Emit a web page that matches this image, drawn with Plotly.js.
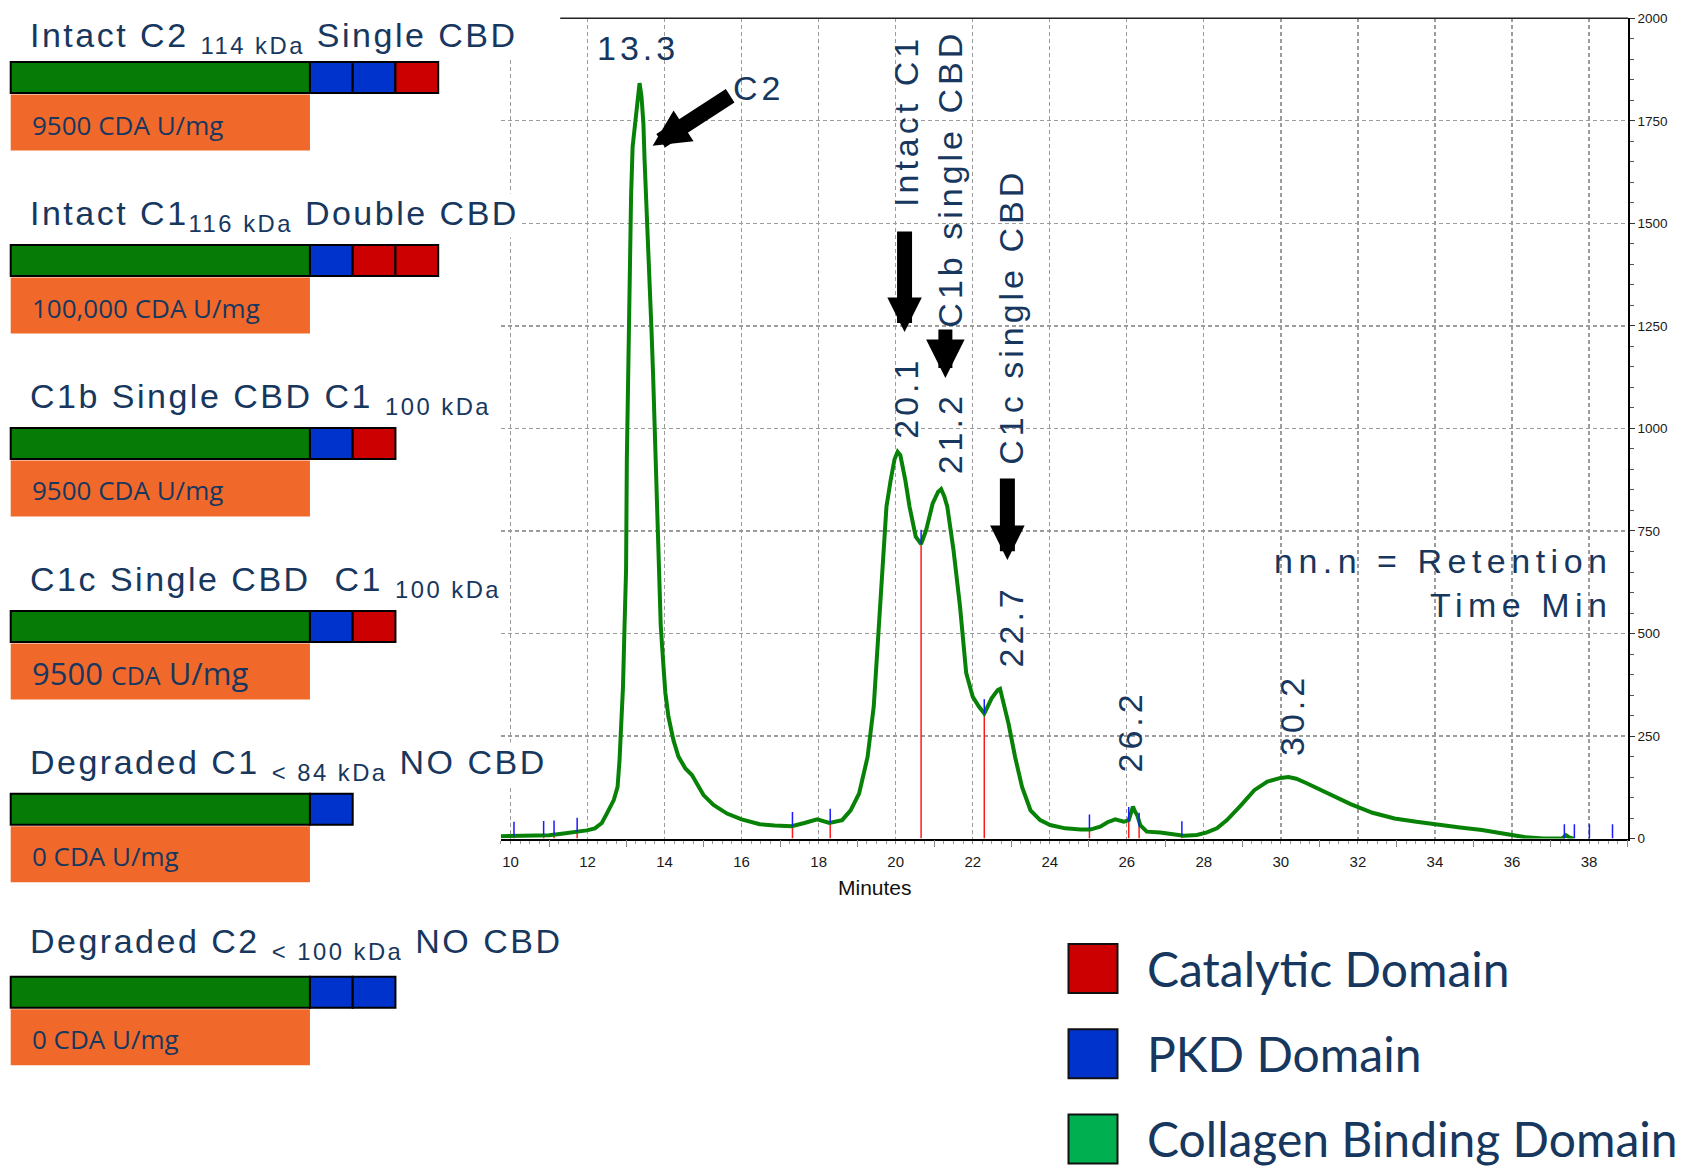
<!DOCTYPE html>
<html>
<head>
<meta charset="utf-8">
<script src="https://cdn.plot.ly/plotly-3.0.1.min.js"></script>
<style>
  html, body { margin:0; padding:0; background:#ffffff; }
  #chart { width:1688px; height:1168px; }
  text.annotation-text[style*="Arial"] { letter-spacing: 4px; }
  text.annotation-text[style*="Verdana"] { letter-spacing: 5.5px; }
  text.annotation-text[style*="Helvetica"] { letter-spacing: 2.5px; }
</style>
</head>
<body>
<div id="chart"></div>
<script>
// ================= DATA =================
// Chromatogram (minutes, detector signal)
const retentionTime = [
  9.75, 10.0, 10.5, 11.0, 11.33, 11.68, 11.98, 12.19, 12.37, 12.5,
  12.63, 12.68, 12.73, 12.78, 12.83, 12.88, 12.92, 12.96, 13.0, 13.02,
  13.05, 13.09, 13.13, 13.17, 13.25, 13.3, 13.35, 13.4, 13.45, 13.48,
  13.54, 13.6, 13.63, 13.66, 13.7, 13.76, 13.81, 13.86, 13.9, 13.96,
  14.02, 14.1, 14.23, 14.36, 14.54, 14.71, 14.84, 15.01, 15.27, 15.62,
  16.0, 16.47, 16.86, 17.3, 17.63, 17.96, 18.28, 18.61, 18.83, 19.05,
  19.27, 19.43, 19.54, 19.65, 19.76, 19.87, 19.97, 20.05, 20.12, 20.25,
  20.36, 20.52, 20.66, 20.79, 20.96, 21.1, 21.18, 21.26, 21.34, 21.5,
  21.67, 21.83, 22.0, 22.16, 22.3, 22.49, 22.65, 22.71, 22.81, 22.93,
  23.1, 23.28, 23.5, 23.75, 24.01, 24.4, 24.8, 25.05, 25.31, 25.5,
  25.7, 25.92, 26.05, 26.12, 26.16, 26.22, 26.27, 26.35, 26.52, 26.87,
  27.22, 27.48, 27.82, 28.08, 28.34, 28.6, 28.95, 29.31, 29.65, 29.99,
  30.2, 30.4, 30.67, 31.24, 31.81, 32.38, 32.95, 33.52, 34.09, 34.65,
  35.22, 35.79, 36.36, 36.82, 37.3, 37.4, 37.5, 37.6
];
const signal = [
  6, 6, 7, 8, 12, 16, 20, 25, 38, 61,
  86, 94, 110, 126, 191, 289, 370, 517, 655, 924,
  1151, 1330, 1566, 1687, 1760, 1810, 1842, 1810, 1744, 1655,
  1517, 1427, 1330, 1240, 1135, 948, 728, 590, 520, 435,
  355, 297, 240, 200, 171, 155, 135, 106, 82, 61,
  47, 35, 32, 30, 38, 47, 38, 45, 69, 110,
  199, 322, 484, 647, 809, 874, 925, 943, 935, 874,
  809, 736, 718, 752, 817, 845, 852, 835, 809, 704,
  566, 404, 346, 322, 305, 342, 362, 365, 330, 280,
  199, 126, 69, 45, 33, 25, 22, 22, 29, 40,
  47, 41, 45, 70, 78, 65, 57, 33, 17, 15,
  9, 7, 9, 15, 25, 45, 80, 118, 139, 148,
  150, 146, 135, 110, 84, 63, 49, 41, 33, 27,
  21, 11, 3, 0, 0, 8, 2, 0
];
// Integration events (time, signal level at the event)
const eventTime  = [10.09, 10.86, 11.13, 11.73, 17.32, 18.30, 20.66, 22.30, 25.03, 26.05, 26.32, 27.43, 37.36, 37.62, 38.01, 38.61];
const eventLevel = [6, 8, 9, 16, 30, 38, 718, 305, 24, 42, 28, 7, 0, 0, 0, 0];

// X axis odd-minute ticks
const xOddTicks = [11, 13, 15, 17, 19, 21, 23, 25, 27, 29, 31, 33, 35, 37, 39];

// Domain diagrams (left panel)
const proteinKeys = ['Intact C2', 'Intact C1', 'C1b', 'C1c', 'Degraded C1', 'Degraded C2'];
const proteinTitles = [
  'Intact C2 <sub>114 kDa</sub> Single CBD',
  'Intact C1<sub>116 kDa</sub> Double CBD',
  'C1b Single CBD C1 <sub>100 kDa</sub>',
  'C1c Single CBD\u00a0 C1 <sub>100 kDa</sub>',
  'Degraded C1 <sub>&lt; 84 kDa</sub> NO CBD',
  'Degraded C2 <sub>&lt; 100 kDa</sub> NO CBD'
];
const domainOrder = [
  ['CBD', 'PKD', 'PKD', 'CAT'],
  ['CBD', 'PKD', 'CAT', 'CAT'],
  ['CBD', 'PKD', 'CAT'],
  ['CBD', 'PKD', 'CAT'],
  ['CBD', 'PKD'],
  ['CBD', 'PKD', 'PKD']
];
const domainLength = { CBD: 7, PKD: 1, CAT: 1 };
const activityText = [
  '9500 CDA U/mg',
  '100,000 CDA U/mg',
  '9500 CDA U/mg',
  '9500 <span style="font-size:25px">CDA</span> U/mg',
  '0 CDA U/mg',
  '0 CDA U/mg'
];

// Legend
const legendNames = ['Catalytic Domain', 'PKD Domain', 'Collagen Binding Domain'];
const legendColors = ['#cc0000', '#0033cc', '#00b050'];

// ================= STYLE / LAYOUT =================
const W = 1688, H = 1168;
const NAVY = '#17375e';
const domainColor = { CBD: '#067c06', PKD: '#0033cc', CAT: '#cc0000' };
const ORANGE = '#f0692b';
const BLUE_TICK = 35;

// main plot area in pixels
const pL = 500.5, pR = 1628.3, pT = 18.3, pB = 838.6;
const xRange = [9.74, 39.02];
const xDomain = [pL / W, pR / W];
const yDomain = [1 - pB / H, 1 - pT / H];

// panel axis (domain units) and category rows
const unitPx = 42.75, barX0 = 10.7;
const rowY0 = 77.6, rowPitch = 182.93;
const legY0 = 968.5, legPitch = 85.2, legX0 = 1093;
const titleNudgePx = [-5, 0, 0, 0, 0, 4];   // small per-row vertical nudges of the titles (px, + = up)

const traces = [];

// red integration drop-lines and blue event ticks
const redX = [], redY = [], blueX = [], blueY = [];
eventTime.forEach((t, i) => {
  if (eventLevel[i] > 0) { redX.push(t, t, null); redY.push(0, eventLevel[i], null); }
  blueX.push(t, t, null); blueY.push(eventLevel[i], eventLevel[i] + BLUE_TICK, null);
});
traces.push({ type: 'scatter', mode: 'lines', x: redX, y: redY, line: { color: '#ff1a1a', width: 1.5 },
  xaxis: 'x', yaxis: 'y', hoverinfo: 'skip', showlegend: false, cliponaxis: false });
traces.push({ type: 'scatter', mode: 'lines', x: retentionTime, y: signal,
  line: { color: '#078207', width: 4 }, xaxis: 'x', yaxis: 'y', hoverinfo: 'skip', showlegend: false, cliponaxis: false });
traces.push({ type: 'scatter', mode: 'lines', x: blueX, y: blueY, line: { color: '#1a1aff', width: 1.5 },
  xaxis: 'x', yaxis: 'y', hoverinfo: 'skip', showlegend: false, cliponaxis: false });
// overlay axis for odd-minute ticks
traces.push({ type: 'scatter', x: [], y: [], xaxis: 'x4', yaxis: 'y', showlegend: false, hoverinfo: 'skip' });

// domain bars
const barThick = 31 / rowPitch;
const maxSlots = Math.max(...domainOrder.map(d => d.length));
for (let k = 0; k < maxSlots; k++) {
  const xs = [], bases = [], cols = [];
  domainOrder.forEach(seq => {
    if (k < seq.length) {
      let start = 0;
      for (let j = 0; j < k; j++) start += domainLength[seq[j]];
      xs.push(domainLength[seq[k]]); bases.push(start); cols.push(domainColor[seq[k]]);
    } else { xs.push(null); bases.push(null); cols.push('rgba(0,0,0,0)'); }
  });
  traces.push({ type: 'bar', orientation: 'h', y: proteinKeys, x: xs, base: bases,
    width: barThick, offset: -barThick / 2,
    marker: { color: cols, line: { color: '#000000', width: 2 } },
    xaxis: 'x2', yaxis: 'y2', hoverinfo: 'skip', showlegend: false });
}
// orange activity boxes
traces.push({ type: 'bar', orientation: 'h', y: proteinKeys,
  x: proteinKeys.map(() => domainLength.CBD), base: proteinKeys.map(() => 0),
  width: 56 / rowPitch, offset: 17 / rowPitch,
  marker: { color: ORANGE, line: { width: 0 } },
  xaxis: 'x2', yaxis: 'y2', hoverinfo: 'skip', showlegend: false });

// legend squares
traces.push({ type: 'scatter', mode: 'markers', x: legendNames.map(() => 0), y: legendNames,
  marker: { symbol: 'square', size: 49, color: legendColors, line: { color: '#111111', width: 2 } },
  xaxis: 'x3', yaxis: 'y3', hoverinfo: 'skip', showlegend: false, cliponaxis: false });

// ---------- annotations ----------
const chartFont = { family: 'Liberation Sans, Arial', size: 34, color: NAVY };
const noteFont = { family: 'Liberation Sans, Verdana', size: 34, color: NAVY };
const panelFont = { family: 'Liberation Sans, Helvetica', size: 34, color: NAVY };
const ann = [];
function chartLabel(text, x, y, angle) {
  ann.push({ xref: 'x', yref: 'y', x: x, y: y, text: text, textangle: angle || 0, showarrow: false,
    xanchor: 'center', yanchor: 'middle', font: chartFont });
}
chartLabel('13.3', 13.31, 1927, 0);
chartLabel('C2', 16.43, 1829, 0);
chartLabel('Intact C1', 20.27, 1750, -90);
chartLabel('C1b single CBD', 21.42, 1610, -90);
chartLabel('C1c single CBD', 23.0, 1273, -90);
chartLabel('20.1', 20.27, 1075, -90);
chartLabel('21.2', 21.42, 989, -90);
chartLabel('22.7', 23.0, 518, -90);
chartLabel('26.2', 26.07, 260, -90);
chartLabel('30.2', 30.27, 302, -90);
ann.push({ xref: 'x', yref: 'y', x: 38.64, y: 622, text: 'nn.n = Retention<br>Time Min', showarrow: false,
  xanchor: 'right', yanchor: 'middle', align: 'right', font: noteFont });

// block arrows
function blockArrow(x, y, ax, ay, size, width) {
  ann.push({ xref: 'x', yref: 'y', x: x, y: y, ax: ax, ay: ay, text: '', showarrow: true,
    arrowhead: 2, arrowsize: size, arrowwidth: width, arrowcolor: '#000000', standoff: 0 });
}
blockArrow(13.69, 1689, 79, -51, 0.46, 16);
blockArrow(20.23, 1235, 0, -102, 0.46, 15);
blockArrow(21.29, 1123, 0, -50, 0.55, 14);
blockArrow(22.90, 679, 0, -83, 0.46, 15);

// x axis title
ann.push({ xref: 'paper', yref: 'paper', x: 875.5 / W, y: 1 - 887 / H, text: 'Minutes', showarrow: false,
  xanchor: 'center', yanchor: 'middle', font: { family: 'Liberation Sans', size: 21, color: '#111111' } });

// panel titles and activity text
proteinKeys.forEach((k, i) => {
  ann.push({ xref: 'x2', yref: 'y2', x: 0, y: k, text: proteinTitles[i], showarrow: false,
    xanchor: 'left', yanchor: 'top', xshift: 18.5, yshift: 67.2 + titleNudgePx[i], bgcolor: '#ffffff', borderpad: 0,
    font: panelFont });
  ann.push({ xref: 'x2', yref: 'y2', x: 0, y: k, text: activityText[i], showarrow: false,
    xanchor: 'left', yanchor: 'middle', xshift: 19, yshift: -47,
    font: { family: 'Open Sans', size: i === 3 ? 31 : 26, color: NAVY } });
});

// legend labels
legendNames.forEach(n => {
  ann.push({ xref: 'x3', yref: 'y3', x: 0, y: n, text: n, showarrow: false,
    xanchor: 'left', yanchor: 'middle', xshift: 52,
    font: { family: 'Lato', size: 48, color: NAVY } });
});

const gridStyle = { gridcolor: '#9c9c9c', griddash: '4px,3px', gridwidth: 1.3 };

const layout = {
  width: W, height: H, autosize: false,
  margin: { l: 0, r: 0, t: 0, b: 0, pad: 0 },
  paper_bgcolor: '#ffffff', plot_bgcolor: 'rgba(0,0,0,0)',
  showlegend: false, barmode: 'overlay',
  xaxis: Object.assign({
    domain: xDomain, range: xRange, anchor: 'y',
    tickmode: 'linear', tick0: 10, dtick: 2,
    ticks: 'outside', ticklen: 3, tickwidth: 1, tickcolor: '#888888',
    ticklabelstandoff: 5,
    tickfont: { family: 'Liberation Sans', size: 15, color: '#1a1a1a' },
    showgrid: true, zeroline: false,
    showline: true, linecolor: '#000000', linewidth: 2,
    minor: { tick0: 10, dtick: 0.25, ticks: 'outside', ticklen: 3, tickwidth: 1, tickcolor: '#9a9a9a', showgrid: false }
  }, gridStyle),
  xaxis4: {
    overlaying: 'x', anchor: 'y', range: xRange, side: 'bottom',
    tickmode: 'array', tickvals: xOddTicks, ticks: 'outside', ticklen: 7, tickwidth: 1, tickcolor: '#888888',
    showticklabels: false, showgrid: false, zeroline: false, showline: false
  },
  yaxis: Object.assign({
    domain: yDomain, range: [0, 2000], anchor: 'x', side: 'right',
    tickmode: 'linear', tick0: 0, dtick: 250,
    ticks: 'outside', ticklen: 5, tickwidth: 1, tickcolor: '#333333',
    tickfont: { family: 'Liberation Sans', size: 13.5, color: '#1a1a1a' },
    showgrid: true, zeroline: false,
    showline: true, linecolor: '#000000', linewidth: 1.6,
    minor: { dtick: 50, ticks: 'outside', ticklen: 4, tickwidth: 1, tickcolor: '#555555', showgrid: false }
  }, gridStyle),
  xaxis2: { domain: [0, 1], anchor: 'y2', range: [-barX0 / unitPx, (W - barX0) / unitPx], visible: false },
  yaxis2: { domain: [0, 1], anchor: 'x2', type: 'category', categoryorder: 'array', categoryarray: proteinKeys,
    range: [(H - rowY0) / rowPitch, -rowY0 / rowPitch], visible: false },
  xaxis3: { domain: [0, 1], anchor: 'y3', range: [-legX0, W - legX0], visible: false },
  yaxis3: { domain: [0, 1], anchor: 'x3', type: 'category', categoryorder: 'array', categoryarray: legendNames,
    range: [(H - legY0) / legPitch, -legY0 / legPitch], visible: false },
  shapes: [
    { type: 'line', xref: 'x', yref: 'paper', x0: 11.29, x1: xRange[1], y0: yDomain[1], y1: yDomain[1],
      line: { color: '#222222', width: 1.5 } }
  ],
  annotations: ann
};

Plotly.newPlot('chart', traces, layout, { staticPlot: true, displayModeBar: false });
</script>
</body>
</html>
